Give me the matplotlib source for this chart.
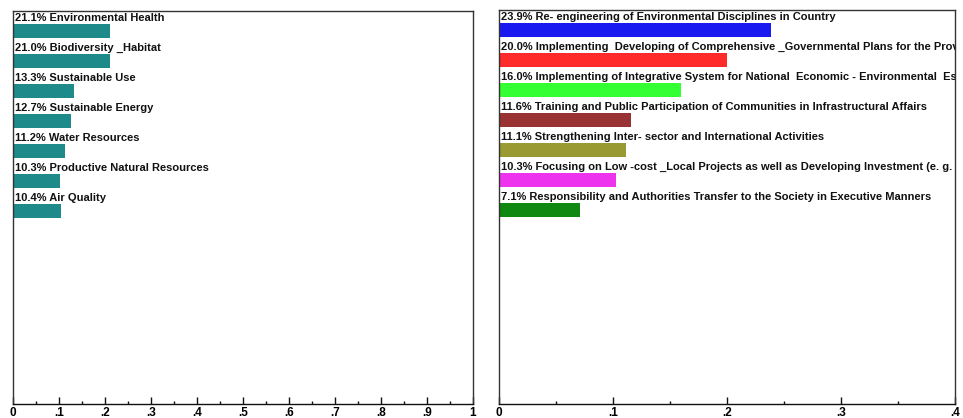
import matplotlib
matplotlib.use("Agg")
import matplotlib.pyplot as plt
from matplotlib.ticker import MultipleLocator, FuncFormatter
from matplotlib.transforms import offset_copy

plt.rcParams['font.family'] = ['Liberation Sans', 'DejaVu Sans']

left_labels = ["Environmental Health", "Biodiversity _Habitat", "Sustainable Use",
               "Sustainable Energy", "Water Resources", "Productive Natural Resources",
               "Air Quality"]
left_values = [0.211, 0.210, 0.133, 0.127, 0.112, 0.103, 0.104]
left_color = "#1f8a8a"

right_labels = ["Re- engineering of Environmental Disciplines in Country",
                "Implementing  Developing of Comprehensive _Governmental Plans for the Provinces",
                "Implementing of Integrative System for National  Economic - Environmental  Estimation",
                "Training and Public Participation of Communities in Infrastructural Affairs",
                "Strengthening Inter- sector and International Activities",
                "Focusing on Low -cost _Local Projects as well as Developing Investment (e. g. Private Sector)",
                "Responsibility and Authorities Transfer to the Society in Executive Manners"]
right_values = [0.239, 0.200, 0.160, 0.116, 0.111, 0.103, 0.071]
right_colors = ["#1a1af0", "#ff2a2a", "#33ff33", "#993333", "#9a9a33", "#ee33ee", "#118811"]

W, H = 963, 418
fig = plt.figure(figsize=(W / 100, H / 100), dpi=100)
fig.patch.set_facecolor("white")

def fmt(v, pos):
    if abs(v) < 1e-9:
        return "0"
    if abs(v - 1) < 1e-9:
        return "1"
    return ("%.1f" % v).lstrip("0")

def panel(x0, x1, ytop, xmax, labels, values, colors):
    ybot = 404
    ax = fig.add_axes([x0 / W, (H - ybot) / H, (x1 - x0) / W, (ybot - ytop) / H])
    nrows = (ybot - ytop) / 30.0
    ax.set_ylim(nrows, 0)
    ax.set_xlim(0, xmax)
    for i, (lab, v, c) in enumerate(zip(labels, values, colors)):
        ax.barh(i + 0.68, v, height=0.47, color=c, edgecolor="none", align="center")
        t = ax.text(0, i + 0.22, "%.1f%% %s" % (v * 100, lab), ha="left", va="center",
                    fontsize=8.0, fontweight="bold", color="#111111",
                    transform=offset_copy(ax.transData, fig=fig, x=2, y=0, units="dots"))
        t.set_clip_on(True)
    ax.set_yticks([])
    ax.xaxis.set_major_locator(MultipleLocator(0.1))
    ax.xaxis.set_minor_locator(MultipleLocator(0.05))
    ax.xaxis.set_major_formatter(FuncFormatter(fmt))
    ax.tick_params(axis="x", which="major", direction="in", length=5, width=1,
                   labelsize=8.5, pad=2, color="#111111")
    ax.tick_params(axis="x", which="minor", direction="in", length=2, width=1, color="#111111")
    for lbl in ax.get_xticklabels():
        lbl.set_fontweight("bold")
    for s in ax.spines.values():
        s.set_color("#333333")
        s.set_linewidth(1)
    ax.spines["bottom"].set_color("#111111")
    return ax

panel(13, 473, 11, 1.0, left_labels, left_values, [left_color] * len(left_values))
panel(499, 955, 10, 0.4, right_labels, right_values, right_colors)

fig.savefig("out.png", dpi=100, facecolor="white")
